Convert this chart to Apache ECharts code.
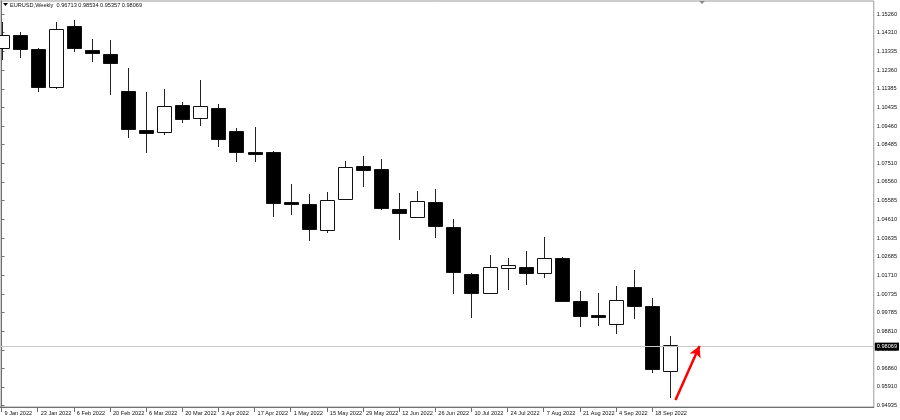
<!DOCTYPE html>
<html>
<head>
<meta charset="utf-8">
<script src="https://cdn.jsdelivr.net/npm/echarts@6/dist/echarts.min.js"></script>
<style>html,body{margin:0;padding:0;background:#fff}#c{width:900px;height:420px}</style>
</head>
<body>
<div id="c"></div>
<script>
const symbolName = 'EURUSD,Weekly';
const dates = ['9 Jan 2022','16 Jan 2022','23 Jan 2022','30 Jan 2022','6 Feb 2022','13 Feb 2022','20 Feb 2022','27 Feb 2022',
  '6 Mar 2022','13 Mar 2022','20 Mar 2022','27 Mar 2022','3 Apr 2022','10 Apr 2022','17 Apr 2022','24 Apr 2022',
  '1 May 2022','8 May 2022','15 May 2022','22 May 2022','29 May 2022','5 Jun 2022','12 Jun 2022','19 Jun 2022',
  '26 Jun 2022','3 Jul 2022','10 Jul 2022','17 Jul 2022','24 Jul 2022','31 Jul 2022','7 Aug 2022','14 Aug 2022',
  '21 Aug 2022','28 Aug 2022','4 Sep 2022','11 Sep 2022','18 Sep 2022','25 Sep 2022'];
const opens  = [1.13526,1.14185,1.13442,1.11469,1.14652,1.13422,1.13183,1.11277,1.09252,1.09132,1.10550,1.09860,1.10410,1.09215,1.08125,1.08094,1.05528,1.05424,1.04043,1.05653,1.07382,1.07211,1.05134,1.04734,1.05528,1.04199,1.01774,1.00803,1.02101,1.02122,1.01810,1.02605,1.00387,0.99661,0.99193,1.01083,1.00112,0.96713];
const highs  = [1.14876,1.14356,1.13494,1.14876,1.14964,1.13977,1.13925,1.12487,1.11241,1.11381,1.10690,1.11848,1.10586,1.09340,1.09392,1.08162,1.06432,1.05913,1.06048,1.07658,1.07902,1.07730,1.05996,1.06068,1.06172,1.04614,1.01811,1.02761,1.02589,1.02968,1.03680,1.02672,1.00891,1.00803,1.01135,1.01982,1.00528,0.98534];
const lows   = [1.12887,1.13006,1.11241,1.11381,1.13318,1.12799,1.11069,1.08852,1.08042,1.08992,1.09600,1.09460,1.08385,1.07606,1.07606,1.04718,1.04838,1.03487,1.03887,1.05617,1.06276,1.05097,1.03539,1.04666,1.03628,1.00720,0.99505,1.00772,1.00943,1.01203,1.01582,1.00304,0.99006,0.99074,0.98643,0.99437,0.96649,0.95357];
const closes = [1.14185,1.13442,1.11469,1.14497,1.13494,1.13235,1.12716,1.09304,1.09112,1.10514,1.09808,1.10498,1.08769,1.08125,1.08006,1.05445,1.05424,1.04095,1.05617,1.07346,1.07175,1.05186,1.04957,1.05565,1.04267,1.01863,1.00772,1.02122,1.02226,1.01810,1.02589,1.00372,0.99609,0.99526,1.00408,1.00112,0.96856,0.98069];
const yTicks = [1.15260,1.14310,1.13335,1.12360,1.11385,1.10435,1.09460,1.08485,1.07510,1.06560,1.05585,1.04610,1.03635,1.02685,1.01710,1.00735,0.99785,0.98810,0.97835,0.96860,0.95910,0.94935];
const xTickIdx = [0,2,4,6,8,10,12,14,16,18,20,22,24,26,28,30,32,34,36];
const arrowFrom = [37.29, 0.95228];
const arrowTo = [38.62, 0.98033];

const last = dates.length - 1;
const currentPrice = closes[last];
const fmt = v => v.toFixed(5);
const data = dates.map((d, i) => [i, opens[i], closes[i], lows[i], highs[i]]);
const FONT = 'Liberation Sans';

const chart = echarts.init(document.getElementById('c'), null, {renderer: 'canvas'});
chart.setOption({
  animation: false,
  backgroundColor: '#fff',
  grid: {left: 0, top: 1, right: 23, bottom: 13, show: true, borderColor: '#9a9a9a', borderWidth: 1},
  xAxis: {
    type: 'value', min: -0.083, max: 48.26,
    splitLine: {show: false},
    axisLine: {show: true, onZero: false, lineStyle: {color: '#707070', width: 1}},
    axisTick: {show: true, customValues: xTickIdx, length: 5, lineStyle: {color: '#707070'}},
    axisLabel: {
      customValues: xTickIdx, formatter: v => dates[Math.round(v)] || '',
      align: 'left', verticalAlign: 'middle', margin: 6, padding: [0, 0, 0, 3],
      fontFamily: FONT, fontSize: 5.6, color: '#111'
    }
  },
  yAxis: {
    type: 'value', position: 'right', min: 0.94865, max: 1.15950, scale: true,
    splitLine: {show: false},
    axisLine: {show: true, lineStyle: {color: '#707070', width: 1}},
    axisTick: {show: true, customValues: yTicks, length: 3, lineStyle: {color: '#707070'}},
    axisLabel: {customValues: yTicks, formatter: v => fmt(v), margin: 3,
      fontFamily: FONT, fontSize: 5.6, color: '#111'}
  },
  graphic: [
    {type: 'polygon', shape: {points: [[3, 3], [8, 3], [5.5, 6]]}, style: {fill: '#000'}, z: 10},
    {type: 'text', left: 10, top: 2,
      style: {text: symbolName + '  ' + [opens[last], highs[last], lows[last], closes[last]].map(fmt).join(' '),
        font: '5.6px "Liberation Sans"', fill: '#111'}, z: 10},
    {type: 'polygon', shape: {points: [[699, 1], [705, 1], [702, 4]]}, style: {fill: '#8a8a8a'}, z: 10}
  ],
  series: [{
    type: 'custom',
    clip: true,
    data: data,
    encode: {x: 0, y: [1, 2, 3, 4]},
    renderItem: function (params, api) {
      const i = api.value(0), o = api.value(1), c = api.value(2), l = api.value(3), h = api.value(4);
      const pO = api.coord([i, o]), pC = api.coord([i, c]), pL = api.coord([i, l]), pH = api.coord([i, h]);
      const x = Math.round(pO[0]);
      const top = Math.round(Math.min(pO[1], pC[1]));
      const bot = Math.round(Math.max(pO[1], pC[1]));
      const bull = c >= o;
      const half = 7;
      return {
        type: 'group',
        children: [
          {type: 'line', shape: {x1: x + 0.5, y1: Math.round(pH[1]), x2: x + 0.5, y2: Math.round(pL[1])},
            style: {stroke: '#222', lineWidth: 1}},
          {type: 'rect', shape: {x: x - half + 0.5, y: top + 0.5, width: 2 * half, height: Math.max(bot - top, 1)},
            style: {fill: bull ? '#fff' : '#000', stroke: '#111', lineWidth: 1}}
        ]
      };
    },
    markLine: {
      silent: true,
      symbol: ['none', 'none'],
      animation: false,
      data: [
        {yAxis: currentPrice, lineStyle: {color: '#c8c8c8', width: 1, type: 'solid'},
          label: {show: true, position: 'end', distance: 1, formatter: fmt(currentPrice),
            backgroundColor: '#000', color: '#fff', padding: [1, 2, 1, 2],
            fontFamily: FONT, fontSize: 5.6}},
        [
          {coord: arrowFrom, symbol: 'none', lineStyle: {color: '#ff0000', width: 2.5, type: 'solid'}, label: {show: false}},
          {coord: arrowTo, symbol: 'arrow', symbolSize: [9, 11]}
        ]
      ]
    }
  }]
});
</script>
</body>
</html>
